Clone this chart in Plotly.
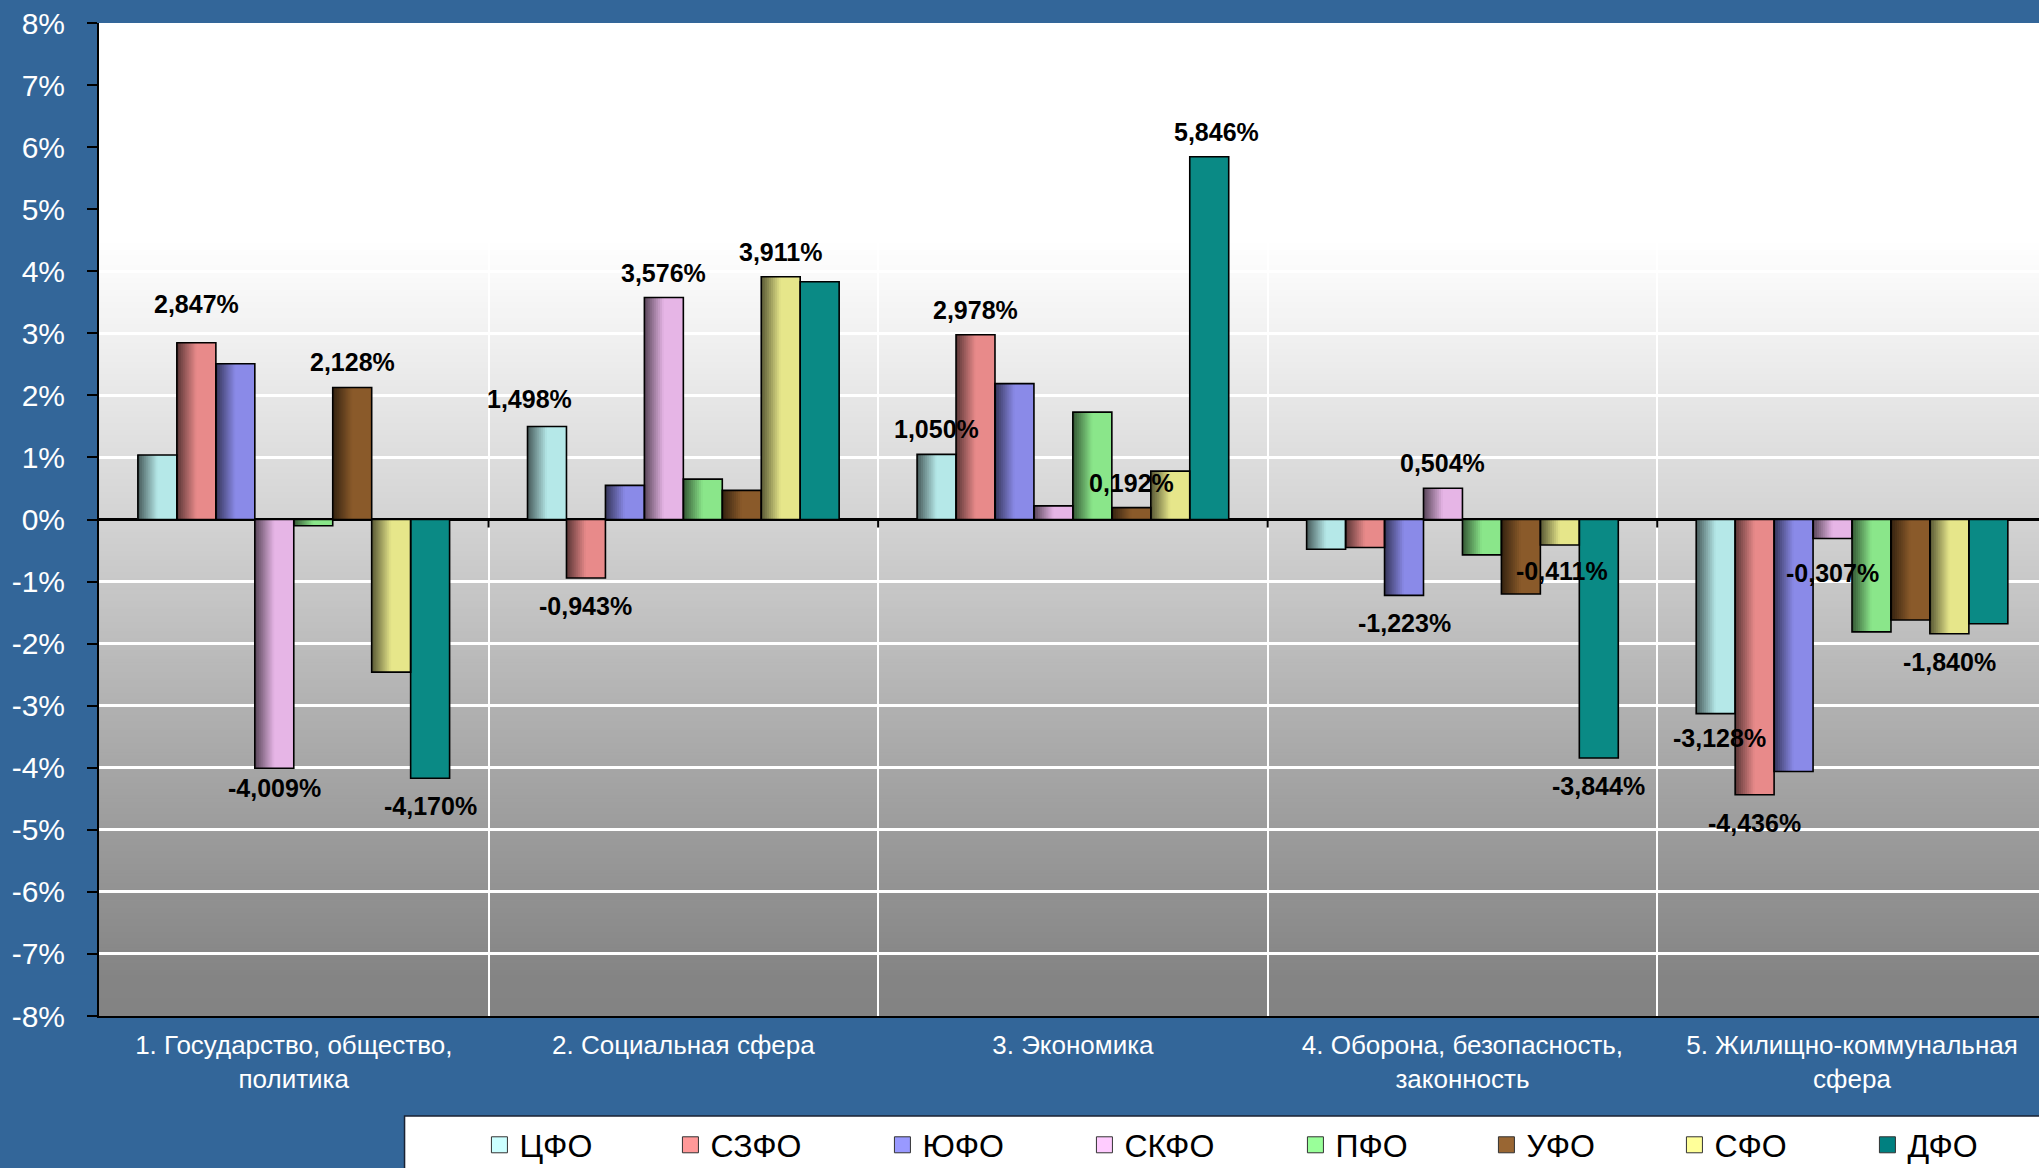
import plotly.graph_objects as go

# ---- data -------------------------------------------------------------
categories = [
    "1. Государство, общество, политика",
    "2. Социальная сфера",
    "3. Экономика",
    "4. Оборона, безопасность, законность",
    "5. Жилищно-коммунальная сфера",
]
category_tick_labels = [
    "1. Государство, общество,<br>политика",
    "2. Социальная сфера",
    "3. Экономика",
    "4. Оборона, безопасность,<br>законность",
    "5. Жилищно-коммунальная<br>сфера",
]
districts = ["ЦФО", "СЗФО", "ЮФО", "СКФО", "ПФО", "УФО", "СФО", "ДФО"]

# change, % (one value per category)
cfo = [1.04, 1.498, 1.050, -0.48, -3.128]
szfo = [2.847, -0.943, 2.978, -0.45, -4.436]
yufo = [2.51, 0.55, 2.19, -1.223, -4.06]
skfo = [-4.009, 3.576, 0.22, 0.504, -0.307]
pfo = [-0.10, 0.65, 1.73, -0.57, -1.81]
ufo = [2.128, 0.47, 0.192, -1.20, -1.62]
sfo = [-2.46, 3.911, 0.78, -0.411, -1.840]
dfo = [-4.170, 3.83, 5.846, -3.844, -1.68]

y_tick_values = list(range(-8, 9))
y_tick_labels = [f"{v}%" for v in y_tick_values]

# category indices whose bars carry a value label
labelled = {
    "ЦФО": [1, 2, 4],
    "СЗФО": [0, 1, 2, 4],
    "ЮФО": [3],
    "СКФО": [0, 1, 3, 4],
    "УФО": [0, 2],
    "СФО": [1, 3, 4],
    "ДФО": [0, 2, 3],
}

# ---- styling ----------------------------------------------------------
series_values = [cfo, szfo, yufo, skfo, pfo, ufo, sfo, dfo]
bar_colors = ["#b5e8e8", "#e88a8a", "#8a8ae8", "#e6b5e6",
              "#8ae68a", "#8a5a2a", "#e6e68a", "#0a8a85"]
legend_colors = ["#ccffff", "#ff9999", "#9999ff", "#ffccff",
                 "#99ff99", "#996633", "#ffff99", "#008080"]
shaded = [True, True, True, True, True, True, True, False]
legend_widths = [146, 167, 157, 166, 146, 143, 148, 147]

# label offsets in px (dx, dy) for a few labels
label_nudges = {
    ("СЗФО", 0): (0, 39),
    ("ЦФО", 1): (-17, 28),
    ("СКФО", 0): (0, -20),
    ("ДФО", 2): (7, 25),
    ("ЦФО", 4): (4, -24),
    ("СКФО", 4): (0, -34),
    ("СФО", 3): (2, -26),
}

FONT = "Liberation Sans, Arial, sans-serif"
BLUE = "#336699"
N_SERIES = len(districts)
GROUP = 0.8
BAR_W = GROUP / N_SERIES
STRIPS = 10
SHADE_FRAC = 0.5


def hex_rgb(h):
    h = h.lstrip("#")
    return tuple(int(h[i:i + 2], 16) for i in (0, 2, 4))


def rgb_str(c):
    return "rgb(%d,%d,%d)" % tuple(int(round(v)) for v in c)


def mix(c1, c2, t):
    return tuple(a + (b - a) * t for a, b in zip(c1, c2))


fig = go.Figure()

# flat bar bodies
for s, (name, vals) in enumerate(zip(districts, series_values)):
    fig.add_trace(go.Bar(
        x=categories, y=vals, name=name, showlegend=False,
        offset=-GROUP / 2 + s * BAR_W, width=BAR_W,
        marker=dict(color=bar_colors[s], line=dict(width=0)),
        hoverinfo="skip",
    ))

# dark-to-light shading on the left part of each bar
for s, vals in enumerate(series_values):
    if not shaded[s]:
        continue
    full = hex_rgb(bar_colors[s])
    dark = tuple(v * 0.38 for v in full)
    for m in range(STRIPS, 0, -1):
        t = (m - 0.5) / STRIPS
        fig.add_trace(go.Bar(
            x=categories, y=vals, showlegend=False,
            offset=-GROUP / 2 + s * BAR_W,
            width=BAR_W * SHADE_FRAC * m / STRIPS,
            marker=dict(color=rgb_str(mix(dark, full, t)), line=dict(width=0)),
            hoverinfo="skip",
        ))

# black outlines
for s, vals in enumerate(series_values):
    fig.add_trace(go.Bar(
        x=categories, y=vals, showlegend=False,
        offset=-GROUP / 2 + s * BAR_W, width=BAR_W,
        marker=dict(color="rgba(0,0,0,0)", line=dict(color="#000000", width=1.6)),
        hoverinfo="skip",
    ))

# legend entries
for s, name in enumerate(districts):
    fig.add_trace(go.Scatter(
        x=[None], y=[None], mode="markers", name=name,
        legendwidth=legend_widths[s],
        marker=dict(symbol="square", size=18, color=legend_colors[s],
                    line=dict(color="#333333", width=1)),
    ))

# value labels
annotations = []
for s, (name, vals) in enumerate(zip(districts, series_values)):
    for c in labelled.get(name, []):
        v = vals[c]
        dx, dy = label_nudges.get((name, c), (0, 25 if v >= 0 else -28))
        annotations.append(dict(
            x=c - GROUP / 2 + (s + 0.5) * BAR_W, y=v, xref="x", yref="y",
            text=f"{v:.3f}".replace(".", ",") + "%",
            showarrow=False, xshift=dx, yshift=dy,
            xanchor="center", yanchor="middle",
            font=dict(family=FONT, size=25, color="#000000", weight="bold"),
        ))

# plot-area background: white at top, fading to grey at the bottom
stops = [(8, 255), (4.5, 255), (3, 241), (0, 211), (-4, 166), (-7.4, 132), (-8, 131)]


def grey_at(v):
    for (a, ga), (b, gb) in zip(stops, stops[1:]):
        if b <= v <= a:
            return ga + (gb - ga) * (a - v) / (a - b)
    return stops[-1][1]


shapes = []
step = 0.05
n_steps = int(round(16 / step))
for k in range(n_steps):
    top = 8 - k * step
    g = grey_at(top - step / 2)
    shapes.append(dict(
        type="rect", xref="paper", yref="y", x0=0, x1=1, y0=-8, y1=top,
        fillcolor=rgb_str((g, g, g)), line=dict(width=0), layer="below",
    ))

# small ticks on the zero line at category boundaries
for c in range(len(categories) - 1):
    shapes.append(dict(
        type="line", xref="x", yref="y", x0=c + 0.5, x1=c + 0.5,
        ysizemode="pixel", yanchor=0, y0=0, y1=-8,
        line=dict(color="#000000", width=2), layer="above",
    ))

# legend box
shapes.append(dict(
    type="rect", xref="paper", yref="paper",
    x0=0.1575, x1=1.1, y0=-0.1007, y1=-0.3,
    fillcolor="#ffffff", line=dict(color="#1a2233", width=1.5), layer="above",
))

fig.update_layout(
    width=2039, height=1168,
    margin=dict(l=99, r=0, t=23, b=152, autoexpand=False),
    paper_bgcolor=BLUE, plot_bgcolor="#ffffff",
    barmode="overlay",
    font=dict(family=FONT),
    showlegend=True,
    legend=dict(
        orientation="h", x=0.1961, xanchor="left", y=-0.1022, yanchor="top",
        bgcolor="rgba(0,0,0,0)", borderwidth=0,
        font=dict(family=FONT, size=32, color="#000000"),
        itemsizing="trace",
    ),
    annotations=annotations,
    shapes=shapes,
    xaxis=dict(
        type="category", categoryorder="array", categoryarray=categories,
        range=[-0.5, 4.48],
        tickvals=categories, ticktext=category_tick_labels,
        tickfont=dict(family=FONT, size=26, color="#ffffff"),
        ticks="", tickson="boundaries", ticklabelstandoff=5,
        showgrid=True, gridcolor="#ffffff", gridwidth=2,
        showline=True, linecolor="#000000", linewidth=2,
        zeroline=False,
    ),
    yaxis=dict(
        range=[-8, 8], tickvals=y_tick_values, ticktext=y_tick_labels,
        tickfont=dict(family=FONT, size=30, color="#ffffff"),
        ticks="outside", ticklen=10, tickwidth=2, tickcolor="#000000",
        ticklabelstandoff=16,
        showgrid=True, gridcolor="#ffffff", gridwidth=2.5,
        showline=True, linecolor="#000000", linewidth=2,
        zeroline=True, zerolinecolor="#000000", zerolinewidth=2.5,
    ),
)

fig.write_html("out.html", post_script="document.body.style.margin='0';")
